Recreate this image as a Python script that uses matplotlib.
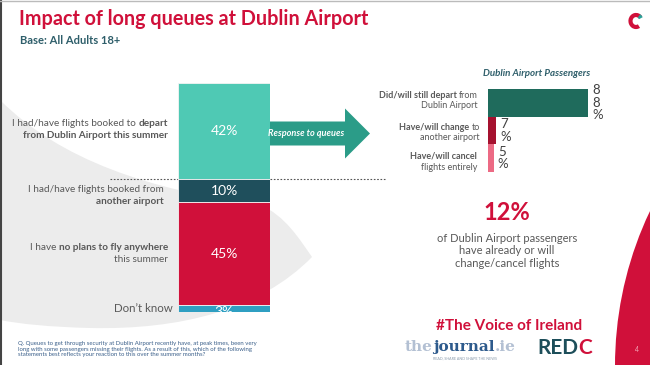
import matplotlib.pyplot as plt
from matplotlib.path import Path
from matplotlib.patches import PathPatch, Circle, Arc, FancyArrow

plt.rcParams['font.family'] = ['Lato', 'DejaVu Sans']

# stacked bar (all adults)
seg_names = ['Dublin Airport', 'another airport', 'no plans', "Don't know"]
seg_vals = [42, 10, 45, 3]
seg_labels = ['42%', '10%', '45%', '3%']
seg_colors = ['#4fc9b4', '#1f4f5c', '#d0103a', '#2f9fc2']

# Dublin Airport passengers
pax_cats = ['still depart', 'change', 'cancel']
pax_vals = [88, 7, 5]
pax_labels = ['8\n8\n%', '7\n%', '5\n%']
pax_colors = ['#1f6b5c', '#a5112f', '#ec6a84']

RED = '#d0103a'
GREY = '#595959'
TEAL = '#2e5e6a'

fig = plt.figure(figsize=(6.5, 3.65), dpi=100)
bg = fig.add_axes([0, 0, 1, 1])
bg.set_xlim(0, 650)
bg.set_ylim(365, 0)
bg.axis('off')
r = fig.canvas.get_renderer()

# background decorations
verts = [(0, 100), (60, 160), (150, 190), (260, 205),
         (285, 215), (300, 240), (312, 257),
         (260, 310), (180, 330), (90, 328),
         (50, 327), (20, 324), (0, 320), (0, 100)]
codes = [Path.MOVETO] + [Path.CURVE4] * 12 + [Path.CLOSEPOLY]
bg.add_patch(PathPatch(Path(verts, codes), fc='#ececec', ec='none', zorder=0))
bg.add_patch(Circle((976, 366), 361, fc=RED, ec='none', zorder=0))
bg.plot([0.8, 0.8], [0, 365], color='#444444', lw=1.5)
bg.plot([0, 650], [0.5, 0.5], color='#bbbbbb', lw=1)
bg.add_patch(Arc((636, 21), 11, 12, theta1=60, theta2=320, color=RED, lw=3))
bg.add_patch(Arc((636, 21), 11, 12, theta1=300, theta2=330, color='#2aa198', lw=3))


def rich(x, y, parts, size, ha='right', gap=None, **kw):
    texts, widths = [], []
    if gap is None:
        sp = bg.text(0, 0, 'I I', fontsize=size)
        sp2 = bg.text(0, 0, 'II', fontsize=size)
        gap = sp.get_window_extent(r).width - sp2.get_window_extent(r).width
        sp.remove()
        sp2.remove()
    for part in parts:
        s, w = part[0], part[1]
        c = part[2] if len(part) > 2 else GREY
        t = bg.text(0, y, s, fontsize=size, fontweight=w, color=c,
                    va='center', ha='left', **kw)
        texts.append(t)
        widths.append(t.get_window_extent(r).width)
    total = sum(widths) + gap * (len(parts) - 1)
    if ha == 'right':
        start = x - total
    elif ha == 'center':
        start = x - total / 2
    else:
        start = x
    for t, w in zip(texts, widths):
        t.set_x(start)
        start += w + gap


# titles
bg.text(19, 19, 'Impact of long queues at Dublin Airport', fontsize=14.2,
        fontweight='bold', color=RED, va='center')
bg.text(20, 41, 'Base: All Adults 18+', fontsize=8, fontweight='bold',
        color=TEAL, va='center')

# stacked bar
ax1 = fig.add_axes([178 / 650, (365 - 312) / 365, 92 / 650, 229 / 365])
bottom = 0
for v, lab, c in zip(seg_vals, seg_labels, seg_colors):
    ax1.bar(0, v, bottom=bottom, width=1, color=c, edgecolor='#f4f4f4', lw=0.6)
    ax1.text(0, bottom + v / 2 + (1.5 if v < 5 else 0), lab, ha='center',
             va='center', color='white', fontsize=10, clip_on=True)
    bottom += v
ax1.set_xlim(-0.5, 0.5)
ax1.set_ylim(100, 0)
ax1.axis('off')

fs = 7.2
rich(168, 124, [('I had/have flights booked to', 'normal'), ('depart', 'bold')], fs)
rich(168, 136, [('from Dublin Airport this summer', 'bold')], fs)
rich(164, 190, [('I had/have flights booked from', 'normal')], fs)
rich(164, 202, [('another airport', 'bold')], fs)
rich(168, 247, [('I have', 'normal'), ('no plans to fly anywhere', 'bold')], fs)
rich(168, 259, [('this summer', 'normal')], fs)
rich(173, 308, [('Don\u2019t know', 'normal')], 8.3)

# dotted separator
bg.plot([110, 385], [178.5, 178.5], color='#555555', lw=0.8, ls=(0, (1.5, 1.5)))

# arrow
bg.add_patch(FancyArrow(270, 133.5, 100, 0, width=24, head_width=50,
                        head_length=25, length_includes_head=True,
                        fc='#2b9c88', ec='none'))
fig.text(306 / 650, 1 - 133.5 / 365, 'Response to queues', fontsize=6.6,
         fontweight='bold', fontstyle='italic', color='white',
         ha='center', va='center', zorder=5)

# passengers bars
ax2 = fig.add_axes([488 / 650, (365 - 172) / 365, (100 / 0.88) / 650, 83 / 365])
ax2.barh(range(3), pax_vals, height=1, color=pax_colors)
for i, (v, lab) in enumerate(zip(pax_vals, pax_labels)):
    ax2.annotate(lab, (v, i), xytext=(3, 0), textcoords='offset points',
                 ha='left', va='center', fontsize=9.5, linespacing=1.05,
                 color='#404040', annotation_clip=False)
ax2.set_xlim(0, 100)
ax2.set_ylim(2.5, -0.5)
ax2.axis('off')

bg.text(537, 73, 'Dublin Airport Passengers', fontsize=7, fontweight='bold',
        fontstyle='italic', color=TEAL, ha='center', va='center')
fs2 = 6.5
rich(478, 95, [('Did/will still depart', 'bold'), ('from', 'normal')], fs2)
rich(478, 105.5, [('Dublin Airport', 'normal')], fs2)
rich(480, 127, [('Have/will change', 'bold'), ('to', 'normal')], fs2)
rich(480, 138, [('another airport', 'normal')], fs2)
rich(477, 156, [('Have/will cancel', 'bold')], fs2)
rich(477, 167, [('flights entirely', 'normal')], fs2)

# callout
bg.text(507, 213, '12%', fontsize=17, fontweight='bold', color=RED,
        ha='center', va='center')
bg.text(507, 251, 'of Dublin Airport passengers\nhave already or will\nchange/cancel flights',
        fontsize=8, color=GREY, ha='center', va='center', linespacing=1.15)

# footer
bg.text(509, 326, '#The Voice of Ireland', fontsize=11, fontweight='bold',
        color=RED, ha='center', va='center')
bg.text(18, 349, 'Q. Queues to get through security at Dublin Airport recently have, at peak times, been very\n'
        'long with some passengers missing their flights. As a result of this, which of the following\n'
        'statements best reflects your reaction to this over the summer months?',
        fontsize=4.3, color='#3a5f8a', va='center', linespacing=1.2)
rich(405, 347, [('the', 'bold', '#b3c0d3'), ('journal', 'bold', '#2d5a8c'),
                ('.ie', 'bold', '#b3c0d3')], 11, ha='left', gap=0,
     family='DejaVu Serif')
bg.text(433, 358, 'READ, SHARE AND SHAPE THE NEWS', fontsize=2.6, color='#8899aa', va='center')
rich(537, 348, [('RED', 'bold', '#1d4e5a'), ('C', 'bold', RED)], 15, ha='left', gap=0)
bg.text(637, 349, '4', fontsize=5, color='#f2a5b5', ha='center', va='center')

fig.savefig('out.png', dpi=100)
